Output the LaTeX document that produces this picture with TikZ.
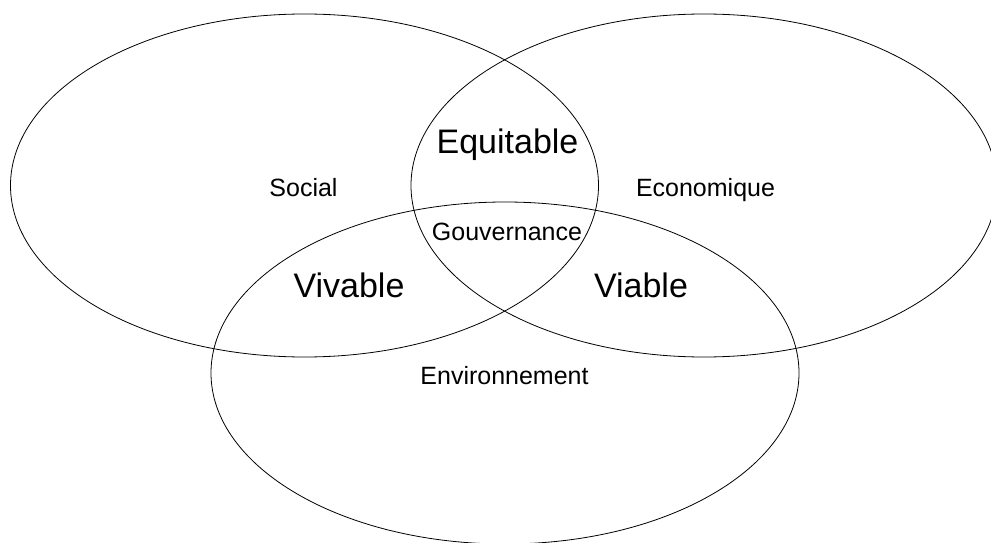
\documentclass[tikz,border=0pt]{standalone}
\usepackage{fontspec}
\setmainfont{Liberation Sans}

\begin{document}
\begin{tikzpicture}[x=1pt,y=1pt]
\tikzstyle{every node}+=[inner sep=0pt,anchor=base]
\tikzstyle{small}=[font=\fontsize{25}{30}\selectfont]
\tikzstyle{large}=[font=\fontsize{34}{40}\selectfont]
\useasboundingbox (0,0) rectangle (991,-543);
\draw [black,line width=0.8pt] (304.5,-185.5) ellipse (294 and 171.5);
\draw [black,line width=0.8pt] (704,-185.5) ellipse (293 and 171.5);
\draw [black,line width=0.8pt] (505,-373) ellipse (294 and 171);
\draw (303.5,-196) node [small] (social) {Social};
\draw (705.5,-196) node [small] (eco) {Economique};
\draw (504.5,-384) node [small] (env) {Environnement};
\draw (507.5,-153) node [large] (equi) {Equitable};
\draw (507,-240) node [small] (gouv) {Gouvernance};
\draw (349,-297) node [large] (viva) {Vivable};
\draw (641,-297) node [large] (via) {Viable};
\end{tikzpicture}
\end{document}
